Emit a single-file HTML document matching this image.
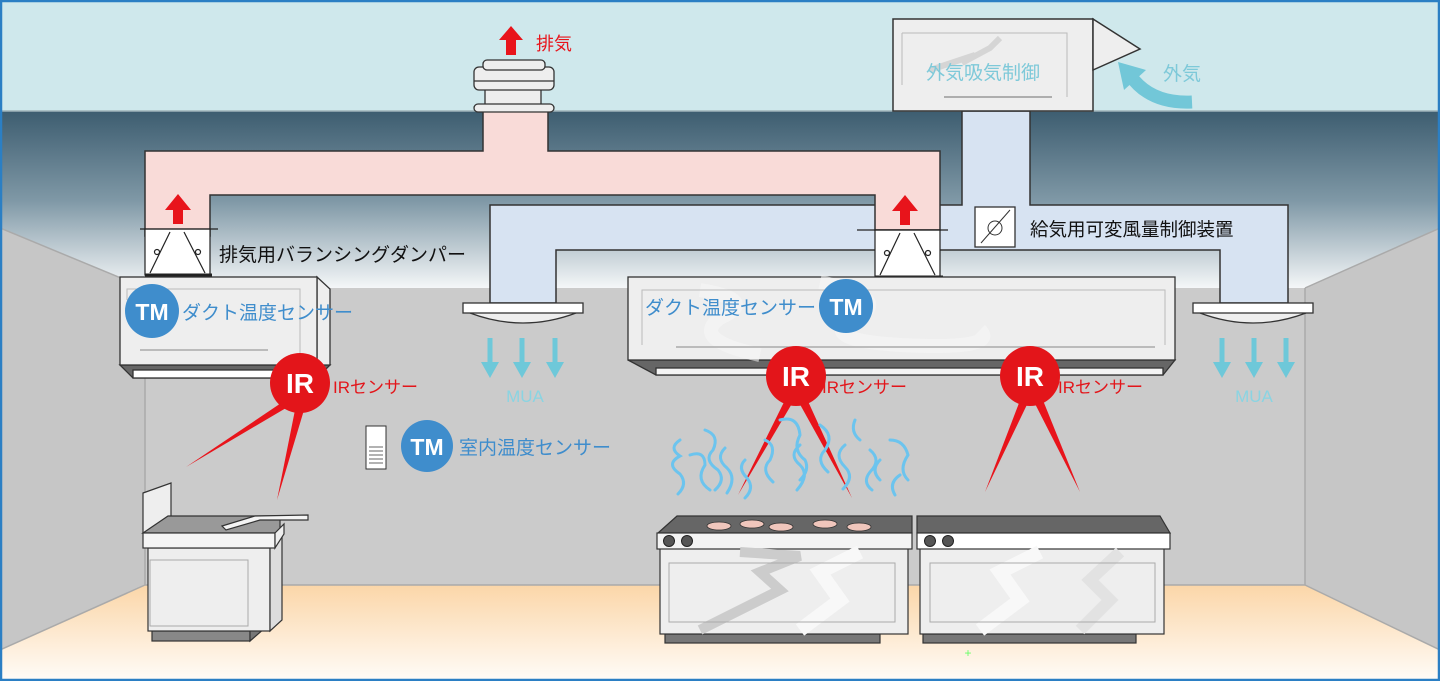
<!DOCTYPE html>
<html><head><meta charset="utf-8"><style>
html,body{margin:0;padding:0;background:#fff}
svg{display:block}
text{font-family:"Liberation Sans","Noto Sans CJK JP",sans-serif}
</style></head><body>
<svg width="1440" height="681" viewBox="0 0 1440 681" xmlns="http://www.w3.org/2000/svg">
<defs>
<linearGradient id="ceil" x1="0" y1="111" x2="0" y2="290" gradientUnits="userSpaceOnUse">
<stop offset="0" stop-color="#3d5d70"/><stop offset="0.5" stop-color="#7f98a6"/><stop offset="1" stop-color="#f7f9fa"/></linearGradient>
<linearGradient id="floor" x1="0" y1="585" x2="0" y2="681" gradientUnits="userSpaceOnUse">
<stop offset="0" stop-color="#fbd6a8"/><stop offset="1" stop-color="#fffcf8"/></linearGradient>
<g id="ar"><rect x="-2.5" y="338" width="5" height="27"/><polygon points="-9,362 9,362 0,378"/></g>
</defs>
<rect x="0" y="0" width="1440" height="111" fill="#cfe8ec"/>
<rect x="0" y="111" width="1440" height="190" fill="url(#ceil)"/>
<line x1="0" y1="111" x2="1440" y2="111" stroke="#9fb4ba" stroke-width="1.5"/>
<rect x="145" y="288" width="1160" height="300" fill="#cbcbcb"/>
<polygon points="0,228 145,288 145,585 0,650" fill="#c6c6c6"/>
<polygon points="1440,228 1305,288 1305,585 1440,650" fill="#c6c6c6"/>
<polygon points="0,650 145,585 1305,585 1440,650 1440,681 0,681" fill="url(#floor)"/>
<g stroke="#aaa" stroke-width="1.5" fill="none">
<line x1="0" y1="228" x2="145" y2="288"/><line x1="1440" y1="228" x2="1305" y2="288"/>
<line x1="145" y1="288" x2="145" y2="585"/><line x1="1305" y1="288" x2="1305" y2="585"/>
<line x1="145" y1="585" x2="1305" y2="585"/><line x1="0" y1="650" x2="145" y2="585"/><line x1="1440" y1="650" x2="1305" y2="585"/>
</g>
<polygon points="490,303 490,205 962,205 962,111 1030,111 1030,205 1288,205 1288,303 1220,303 1220,250 556,250 556,303" fill="#d7e3f2" stroke="#333" stroke-width="1.5"/>
<polygon points="145,236 145,151 483,151 483,111 548,111 548,151 940,151 940,230 875,230 875,195 210,195 210,236" fill="#f9dbd8" stroke="#333" stroke-width="1.5"/>
<g fill="#eee" stroke="#333" stroke-width="1.3">
<rect x="485" y="88" width="56" height="17"/>
<rect x="474" y="104" width="80" height="8" rx="4"/>
<rect x="474" y="67" width="80" height="23" rx="5"/>
<rect x="483" y="60" width="62" height="10" rx="4"/>
<line x1="474" y1="81" x2="554" y2="81"/>
</g>
<polygon points="511,26 523,40 516,40 516,55 506,55 506,40 499,40" fill="#e8141b"/>
<text x="536" y="50" font-size="18" fill="#e8141b">排気</text>
<rect x="893" y="19" width="200" height="92" fill="#eee" stroke="#333" stroke-width="1.5"/>
<path d="M902,33 H1067 V97 M902,33 V85" stroke="#bbb" fill="none"/>
<line x1="944" y1="97" x2="1052" y2="97" stroke="#999" stroke-width="1.5"/>
<path d="M930,70 L975,55 L962,63 L990,48 L1000,38" stroke="#d5d5d5" stroke-width="6" fill="none"/>
<polygon points="1093,19 1140,49 1093,70" fill="#eee" stroke="#333" stroke-width="1.5"/>
<text x="983" y="79" font-size="19" fill="#7ec9d9" text-anchor="middle">外気吸気制御</text>
<path d="M1192,102 Q1150,104 1130,75" stroke="#72c7d8" stroke-width="13" fill="none"/>
<polygon points="1118,62 1146,70 1124,90" fill="#72c7d8"/>
<text x="1163" y="80" font-size="19" fill="#7ec9d9">外気</text>
<rect x="975" y="207" width="40" height="40" fill="#fff" stroke="#333" stroke-width="1.3"/>
<circle cx="995" cy="228" r="7" fill="none" stroke="#333"/>
<line x1="981" y1="243" x2="1010" y2="210" stroke="#333"/>
<text x="1030" y="236" font-size="18.5" fill="#111">給気用可変風量制御装置</text>
<g stroke="#222" stroke-width="1.2">
<rect x="145" y="229" width="65" height="46" fill="#fff"/>
<line x1="140" y1="229" x2="218" y2="229"/>
<line x1="145" y1="275" x2="212" y2="275" stroke-width="3"/>
<line x1="170" y1="232" x2="150" y2="273"/><line x1="184" y1="232" x2="205" y2="273"/>
<circle cx="157" cy="252" r="2.5" fill="#fff"/><circle cx="198" cy="252" r="2.5" fill="#fff"/>
<rect x="875" y="230" width="65" height="47" fill="#fff"/>
<line x1="857" y1="230" x2="948" y2="230"/>
<line x1="875" y1="277" x2="943" y2="277" stroke-width="3"/>
<line x1="900" y1="233" x2="880" y2="275"/><line x1="914" y1="233" x2="935" y2="275"/>
<circle cx="887" cy="253" r="2.5" fill="#fff"/><circle cx="928" cy="253" r="2.5" fill="#fff"/>
</g>
<polygon points="178,194 191,210 183,210 183,224 173,224 173,210 165,210" fill="#e8141b"/>
<polygon points="905,195 918,211 910,211 910,225 900,225 900,211 892,211" fill="#e8141b"/>
<text x="219" y="261" font-size="19" fill="#111">排気用バランシングダンパー</text>
<g stroke="#333" stroke-width="1.3">
<path d="M470,313 Q523,333 576,313" fill="#eee"/>
<rect x="463" y="303" width="120" height="10" fill="#fff"/>
<path d="M1200,313 Q1253,333 1306,313" fill="#eee"/>
<rect x="1193" y="303" width="120" height="10" fill="#fff"/>
</g>
<g fill="#6ec8d9">
<use href="#ar" x="490"/><use href="#ar" x="522"/><use href="#ar" x="555"/>
<use href="#ar" x="1222"/><use href="#ar" x="1254"/><use href="#ar" x="1286"/>
</g>
<text x="525" y="402" font-size="17" fill="#8ad4e2" text-anchor="middle">MUA</text>
<text x="1254" y="402" font-size="17" fill="#8ad4e2" text-anchor="middle">MUA</text>
<g stroke="#333" stroke-width="1.3">
<polygon points="120,365 133,378 317,378 330,365" fill="#666"/>
<rect x="133" y="370" width="184" height="8" fill="#fff"/>
<polygon points="317,277 330,289 330,365 317,365" fill="#eee"/>
<rect x="120" y="277" width="197" height="88" fill="#eee"/>
</g>
<path d="M127,300 V289 H300 V360" stroke="#bbb" fill="none"/>
<line x1="140" y1="350" x2="268" y2="350" stroke="#aaa" stroke-width="1.5"/>
<g stroke="#333" stroke-width="1.3">
<polygon points="628,360 656,375 1163,375 1175,360" fill="#666"/>
<rect x="656" y="368" width="507" height="7" fill="#f4f4f4"/>
<rect x="628" y="277" width="547" height="83" fill="#eee"/>
</g>
<path d="M700,290 Q760,300 720,318 Q690,340 760,355" stroke="#f6f6f6" stroke-width="14" fill="none" opacity=".6"/>
<path d="M820,282 Q900,300 850,320 Q820,340 900,345 Q1000,350 980,330" stroke="#f6f6f6" stroke-width="14" fill="none" opacity=".6"/>
<path d="M642,345 V290 H1165 V345" stroke="#bbb" fill="none"/>
<line x1="676" y1="347" x2="1155" y2="347" stroke="#aaa" stroke-width="1.5"/>
<g fill="#e8141b">
<polygon points="293,395 303,398 186,467"/><polygon points="297,400 307,400 277,500"/>
<polygon points="790,390 800,390 738,495"/><polygon points="792,390 802,388 852,498"/>
<polygon points="1024,390 1034,390 985,492"/><polygon points="1028,390 1038,388 1080,492"/>
</g>
<g font-weight="bold" text-anchor="middle" fill="#fff">
<circle cx="152" cy="311" r="27" fill="#3f8dcc"/><text x="152" y="320" font-size="23" fill="#fff">TM</text>
<circle cx="846" cy="306" r="27" fill="#3f8dcc"/><text x="846" y="315" font-size="23" fill="#fff">TM</text>
<circle cx="427" cy="446" r="26" fill="#3f8dcc"/><text x="427" y="455" font-size="23" fill="#fff">TM</text>
<circle cx="300" cy="383" r="30" fill="#e3151a"/><text x="300" y="393" font-size="28" fill="#fff">IR</text>
<circle cx="796" cy="376" r="30" fill="#e3151a"/><text x="796" y="386" font-size="28" fill="#fff">IR</text>
<circle cx="1030" cy="376" r="30" fill="#e3151a"/><text x="1030" y="386" font-size="28" fill="#fff">IR</text>
</g>
<text x="182" y="319" font-size="19" fill="#3f8dcc">ダクト温度センサー</text>
<text x="645" y="314" font-size="19" fill="#3f8dcc">ダクト温度センサー</text>
<text x="459" y="454" font-size="19" fill="#3f8dcc">室内温度センサー</text>
<text x="333" y="393" font-size="17" fill="#e3151a">IRセンサー</text>
<text x="822" y="393" font-size="17" fill="#e3151a">IRセンサー</text>
<text x="1058" y="393" font-size="17" fill="#e3151a">IRセンサー</text>
<rect x="366" y="426" width="20" height="43" fill="#fff" stroke="#333"/>
<g stroke="#999" stroke-width="1.5"><line x1="369" y1="447" x2="383" y2="447"/><line x1="369" y1="451" x2="383" y2="451"/><line x1="369" y1="455" x2="383" y2="455"/><line x1="369" y1="459" x2="383" y2="459"/><line x1="369" y1="463" x2="383" y2="463"/></g>
<g stroke="#6cc4ee" stroke-width="3" fill="none" stroke-linecap="round">
<path d="M680,440 q-12,8 0,16 q-15,8 0,18 q8,10 -2,20"/><path d="M705,430 q15,5 8,20 q-10,10 5,20 q8,10 -3,20"/>
<path d="M690,455 q15,-5 15,10 q-10,15 5,25"/><path d="M725,448 q-10,10 2,20 q10,10 0,25"/>
<path d="M745,460 q-8,8 2,18 q8,10 -2,20"/><path d="M765,440 q12,5 5,20 q-10,10 3,22"/>
<path d="M780,420 q18,-5 20,15 q-8,15 5,25 q5,10 -5,20"/><path d="M800,445 q-12,10 0,20 q10,10 -3,25"/>
<path d="M820,425 q15,10 5,25 q-10,10 3,22"/><path d="M845,445 q-12,10 0,22 q10,10 -2,22"/>
<path d="M860,440 q-10,-8 -5,-20 M870,450 q12,10 0,22 q-8,10 2,18"/><path d="M890,440 q14,0 18,15 q-10,15 0,25"/>
<path d="M880,460 q-10,10 0,20"/><path d="M900,475 q-12,8 -5,20"/>
</g>
<g stroke="#333" stroke-width="1.2">
<polygon points="143,493 171,483 171,533 143,533" fill="#eee"/>
<rect x="152" y="631" width="98" height="10" fill="#888"/>
<polygon points="250,631 265,620 265,628 250,641" fill="#777"/>
<rect x="148" y="548" width="122" height="83" fill="#eee"/>
<polygon points="270,548 282,535 282,620 270,631" fill="#ddd"/>
<polygon points="143,533 168,516 280,516 280,533" fill="#999"/>
<rect x="143" y="533" width="132" height="15" fill="#f4f4f4"/>
<polygon points="275,533 284,524 284,534 275,548" fill="#eee"/>
<polygon points="222,526 255,516 308,515 308,520 260,520 226,530" fill="#f4f4f4"/>
</g>
<rect x="150" y="560" width="98" height="66" fill="none" stroke="#aaa"/>
<g stroke="#333" stroke-width="1.2">
<rect x="665" y="634" width="215" height="9" fill="#777"/>
<rect x="660" y="548" width="248" height="86" fill="#eee"/>
<polygon points="658,533 677,516 912,516 912,533" fill="#666"/>
<rect x="657" y="533" width="255" height="16" fill="#f4f4f4"/>
<rect x="923" y="634" width="213" height="9" fill="#777"/>
<rect x="920" y="548" width="244" height="86" fill="#eee"/>
<polygon points="917,516 1160,516 1170,533 917,533" fill="#666"/>
<rect x="917" y="533" width="253" height="16" fill="#fff"/>
</g>
<path d="M740,552 L800,556 L760,572 L780,590 L700,630" stroke="#ccc" stroke-width="10" fill="none"/>
<path d="M860,552 L820,572 L840,600 L800,630" stroke="#f8f8f8" stroke-width="14" fill="none"/>
<path d="M1040,552 L1000,572 L1020,600 L980,630" stroke="#f8f8f8" stroke-width="14" fill="none"/>
<path d="M1120,552 L1090,580 L1110,600 L1080,630" stroke="#e2e2e2" stroke-width="12" fill="none"/>
<rect x="669" y="563" width="226" height="59" fill="none" stroke="#aaa"/>
<rect x="930" y="563" width="225" height="59" fill="none" stroke="#aaa"/>
<g fill="#f0c6bc" stroke="#333" stroke-width="0.8">
<ellipse cx="719" cy="526" rx="12" ry="4"/><ellipse cx="752" cy="524" rx="12" ry="4"/><ellipse cx="781" cy="527" rx="12" ry="4"/><ellipse cx="825" cy="524" rx="12" ry="4"/><ellipse cx="859" cy="527" rx="12" ry="4"/>
</g>
<g fill="#555" stroke="#222">
<circle cx="669" cy="541" r="5.5"/><circle cx="687" cy="541" r="5.5"/><circle cx="930" cy="541" r="5.5"/><circle cx="948" cy="541" r="5.5"/>
</g>
<text x="968" y="657" font-size="12" fill="#6f6" text-anchor="middle">+</text>
<rect x="1" y="1" width="1438" height="679" fill="none" stroke="#2b7fc4" stroke-width="2.5"/>
</svg>
</body></html>
